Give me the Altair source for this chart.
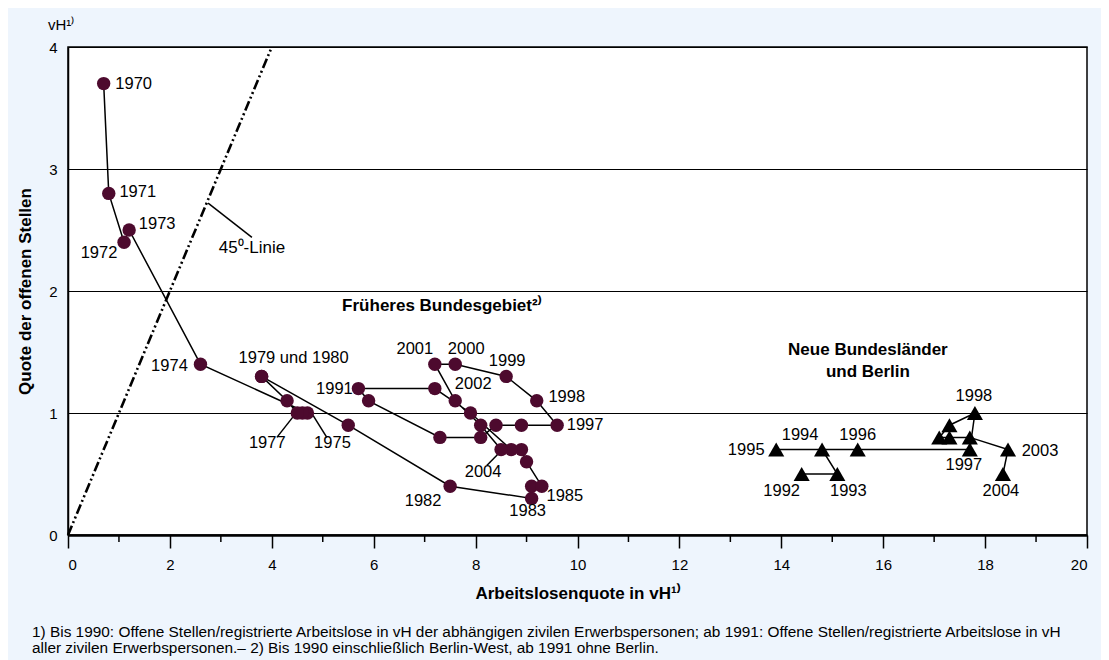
import altair as alt
import pandas as pd

# ---------------- data ----------------
west_years = list(range(1970, 2005))
west_x = [0.7, 0.8, 1.1, 1.2, 2.6, 4.7, 4.6, 4.5, 4.3, 3.8, 3.8, 5.5, 7.5, 9.1, 9.1, 9.3, 9.0,
          8.9, 8.7, 7.9, 7.2, 5.7, 5.9, 7.3, 8.1, 8.4, 8.9, 9.6, 9.2, 8.6, 7.6, 7.2, 7.6, 8.1, 8.5]
west_y = [3.7, 2.8, 2.4, 2.5, 1.4, 1.0, 1.0, 1.0, 1.1, 1.3, 1.3, 0.9, 0.4, 0.3, 0.4, 0.4, 0.6,
          0.7, 0.7, 1.0, 1.2, 1.2, 1.1, 0.8, 0.8, 0.9, 0.9, 0.9, 1.1, 1.3, 1.4, 1.4, 1.1, 0.9, 0.7]

east_years = list(range(1992, 2005))
east_x = [14.4, 15.1, 14.8, 13.9, 15.5, 17.7, 17.8, 17.3, 17.1, 17.3, 17.7, 18.45, 18.35]
east_y = [0.5, 0.5, 0.7, 0.7, 0.7, 0.7, 1.0, 0.9, 0.8, 0.8, 0.8, 0.7, 0.5]

diag_x = [0, 4]
diag_y = [0, 4]

x_major_ticks = list(range(0, 21, 2))
x_minor_ticks = list(range(1, 20, 2))
y_ticks = [0, 1, 2, 3, 4]

west_label_text = {1970: "1970", 1971: "1971", 1972: "1972", 1973: "1973", 1974: "1974",
                   1979: "1979 und 1980", 1977: "1977", 1975: "1975", 1991: "1991",
                   2001: "2001", 2000: "2000", 1999: "1999", 2002: "2002", 1998: "1998",
                   1997: "1997", 2004: "2004", 1982: "1982", 1983: "1983", 1985: "1985"}
east_label_text = {1995: "1995", 1994: "1994", 1996: "1996", 1992: "1992", 1993: "1993",
                   1998: "1998", 1997: "1997", 2003: "2003", 2004: "2004"}

# label placement: pixel offsets of the label centre from its point
west_label_offset = {1970: (30, 0), 1971: (29, -1), 1972: (-25, 11), 1973: (28, -6),
                     1974: (-31, 2), 1979: (32, -18), 1977: (-30, 30), 1975: (25, 30),
                     1991: (-24, 0), 2001: (-20, -15), 2000: (11, -15), 1999: (1, -15),
                     2002: (18, -17), 1998: (30, -4), 1997: (28, 0), 2004: (-18, 22),
                     1982: (-27, 15), 1983: (-4, 13), 1985: (23, 10)}
east_label_offset = {1995: (-30, 0), 1994: (-22, -15), 1996: (0, -15), 1992: (-20, 17),
                     1993: (11, 17), 1998: (-1, -17), 1997: (-6, 15), 2003: (32, 1),
                     2004: (-2, 17)}

# leader lines (label pointers), data units
leader_x1 = [4.42, 4.81, 8.48, 2.75]
leader_y1 = [0.97, 0.98, 0.68, 2.72]
leader_x2 = [4.10, 5.08, 8.22, 3.61]
leader_y2 = [0.80, 0.80, 0.57, 2.44]

region_text = ["Früheres Bundesgebiet²⁾", "Neue Bundesländer", "und Berlin", "45⁰-Linie"]
region_x = [5.38, 15.7, 15.7, 3.61]
region_y = [1.88, 1.52, 1.34, 2.35]
region_weight = ["bold", "bold", "bold", "normal"]
region_align = ["left", "center", "center", "center"]

footnotes = [
    "1) Bis 1990: Offene Stellen/registrierte Arbeitslose in vH der abhängigen zivilen Erwerbspersonen; ab 1991: Offene Stellen/registrierte Arbeitslose in vH",
    "aller zivilen Erwerbspersonen.– 2) Bis 1990 einschließlich Berlin-West, ab 1991 ohne Berlin.",
]

FONT = "Liberation Sans"
MAROON = "#4d0a2e"
W, H = 1019, 488
XMAX, YMAX = 20, 4

# ---------------- tables ----------------
west = pd.DataFrame({"year": west_years, "x": west_x, "y": west_y})
east = pd.DataFrame({"year": east_years, "x": east_x, "y": east_y})
diag = pd.DataFrame({"x": diag_x, "y": diag_y})


def labels(df, texts, offs):
    rows = []
    for yr, t in texts.items():
        r = df[df.year == yr].iloc[0]
        dx, dy = offs[yr]
        rows.append({"x": r.x + dx * XMAX / W, "y": r.y - dy * YMAX / H, "text": t})
    return pd.DataFrame(rows)


wl = labels(west, west_label_text, west_label_offset)
el = labels(east, east_label_text, east_label_offset)
leaders = pd.DataFrame({"x": leader_x1, "y": leader_y1, "x2": leader_x2, "y2": leader_y2})
regions = pd.DataFrame({"x": region_x, "y": region_y, "text": region_text})
minor = pd.DataFrame({"x": x_minor_ticks})

xenc = alt.X("x:Q", scale=alt.Scale(domain=[0, XMAX], nice=False, zero=False),
             axis=alt.Axis(values=x_major_ticks, grid=False,
                           title="Arbeitslosenquote in vH¹⁾", titleY=58,
                           titleBaseline="middle"))
yenc = alt.Y("y:Q", scale=alt.Scale(domain=[0, YMAX], nice=False, zero=False),
             axis=alt.Axis(values=y_ticks, grid=True, ticks=False, labelPadding=11,
                           title="Quote der offenen Stellen", titleX=-43, titleY=H / 2,
                           titleBaseline="middle", titleAlign="center"))

minor_ticks = alt.Chart(minor).mark_rule(color="black", strokeWidth=1.5).encode(
    x=xenc, y=alt.value(H), y2=alt.value(H + 7))

diag_line = alt.Chart(diag).mark_line(color="black", strokeWidth=2.6,
                                      strokeDash=[10, 3, 2, 3, 2, 3]).encode(x=xenc, y=yenc)

leader_rules = alt.Chart(leaders).mark_rule(color="black", strokeWidth=1.5).encode(
    x=xenc, y=yenc, x2="x2:Q", y2="y2:Q")

west_line = alt.Chart(west).mark_line(color="black", strokeWidth=1.5).encode(
    x=xenc, y=yenc, order="year:O")
west_pts = alt.Chart(west).mark_circle(color=MAROON, opacity=1, size=180).encode(x=xenc, y=yenc)

east_line = alt.Chart(east).mark_line(color="black", strokeWidth=1.5).encode(
    x=xenc, y=yenc, order="year:O")
east_pts = alt.Chart(east).mark_point(shape="triangle-up", filled=True, color="black",
                                      opacity=1, size=260).encode(x=xenc, y=yenc)


def label_layer(df):
    return alt.Chart(df).mark_text(font=FONT, fontSize=16.5, color="black", align="center",
                                   baseline="middle").encode(x=xenc, y=yenc, text="text:N")


region_layers = []
for i in range(len(region_text)):
    region_layers.append(
        alt.Chart(regions.iloc[[i]]).mark_text(font=FONT, fontSize=17, color="black",
                                               fontWeight=region_weight[i],
                                               align=region_align[i],
                                               baseline="middle").encode(
            x=xenc, y=yenc, text="text:N"))

vh = alt.Chart(pd.DataFrame({"text": ["vH¹⁾"]})).mark_text(
    font=FONT, fontSize=15, color="black", align="left", baseline="alphabetic").encode(
    x=alt.value(-20), y=alt.value(-17), text="text:N")

foot_layers = []
for i, t in enumerate(footnotes):
    foot_layers.append(alt.Chart(pd.DataFrame({"text": [t]})).mark_text(
        font=FONT, fontSize=15.4, color="black", align="left", baseline="middle").encode(
        x=alt.value(-36), y=alt.value(585 + 16 * i), text="text:N"))

chart = alt.layer(
    minor_ticks, diag_line, leader_rules, west_line, east_line, west_pts, east_pts,
    label_layer(wl), label_layer(el), *region_layers, vh, *foot_layers
).properties(
    width=W, height=H,
    padding={"left": 60, "top": 39, "right": 14, "bottom": 125},
    autosize=alt.AutoSizeParams(type="none"),
    background="#EEF5FD",
).configure_view(
    fill="white", stroke="black", strokeWidth=1.5
).configure_axis(
    labelFont=FONT, titleFont=FONT, labelFontSize=15, titleFontSize=17,
    titleFontWeight="bold", labelColor="black", titleColor="black",
    domainColor="black", tickColor="black", gridColor="black", gridWidth=1.2,
    gridOpacity=1
).configure_axisX(
    domainWidth=2.5, tickSize=13, tickWidth=1.5, labelPadding=9
).configure_axisY(
    domainWidth=1.5
)

chart.save("out.html", embed_options={"renderer": "svg", "actions": False})
